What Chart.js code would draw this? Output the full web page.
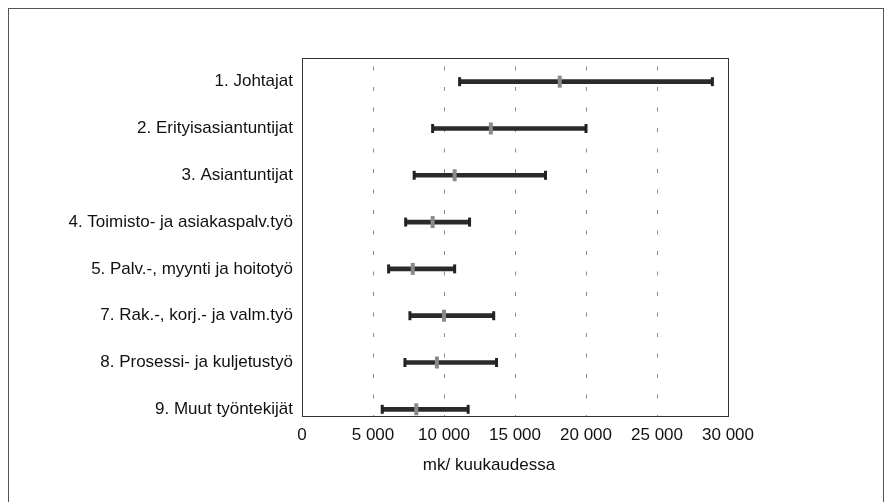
<!DOCTYPE html>
<html>
<head>
<meta charset="utf-8">
<script src="https://cdn.jsdelivr.net/npm/chart.js@4/dist/chart.umd.min.js"></script>
<style>
html,body{margin:0;padding:0;background:#fff;}
#wrap{width:887px;height:502px;position:relative;}
</style>
</head>
<body>
<div id="wrap"><canvas id="c" width="887" height="502"></canvas></div>
<script>
const categories = [
  "1. Johtajat",
  "2. Erityisasiantuntijat",
  "3. Asiantuntijat",
  "4. Toimisto- ja asiakaspalv.työ",
  "5. Palv.-, myynti ja hoitotyö",
  "7. Rak.-, korj.- ja valm.työ",
  "8. Prosessi- ja kuljetustyö",
  "9. Muut työntekijät"
];
const lowValues    = [11100, 9200, 7900, 7300, 6100, 7600, 7250, 5650];
const medianValues = [18150, 13300, 10750, 9200, 7800, 10000, 9500, 8050];
const highValues   = [28900, 20000, 17150, 11800, 10750, 13500, 13700, 11700];
const xTicks = [0, 5000, 10000, 15000, 20000, 25000, 30000];
const xTickLabels = ["0", "5 000", "10 000", "15 000", "20 000", "25 000", "30 000"];
const axisTitle = "mk/ kuukaudessa";

const FONT = "'Liberation Sans',Arial,Helvetica,sans-serif";

const framePlugin = {
  id: 'frame',
  afterDraw(chart) {
    const ctx = chart.ctx;
    const a = chart.chartArea;
    ctx.save();
    ctx.strokeStyle = '#555';
    ctx.lineWidth = 1;
    ctx.strokeRect(8.5, 8.5, 875, 520);
    ctx.strokeStyle = '#333';
    ctx.strokeRect(Math.round(a.left) + 0.5, Math.round(a.top) + 0.5,
                   Math.round(a.right - a.left), Math.round(a.bottom - a.top));
    ctx.fillStyle = '#111';
    ctx.font = "17px " + FONT;
    ctx.textAlign = 'center';
    ctx.textBaseline = 'middle';
    ctx.fillText(axisTitle, a.left + (a.right - a.left) * 0.439, 465);
    ctx.restore();
  }
};

new Chart(document.getElementById('c'), {
  type: 'bar',
  data: {
    datasets: [
      {
        type: 'bar',
        data: categories.map((c, i) => ({ x: [lowValues[i], highValues[i]], y: i })),
        backgroundColor: '#2a2a2a',
        borderWidth: 0,
        barThickness: 4,
        order: 3
      },
      {
        type: 'scatter',
        data: categories.map((c, i) => ({ x: medianValues[i], y: i })),
        pointStyle: 'line',
        rotation: 90,
        radius: 6,
        borderWidth: 4,
        borderColor: '#8a8a8a',
        backgroundColor: '#8a8a8a',
        order: 1
      },
      {
        type: 'scatter',
        data: categories.flatMap((c, i) => [{ x: lowValues[i], y: i }, { x: highValues[i], y: i }]),
        pointStyle: 'line',
        rotation: 90,
        radius: 4.5,
        borderWidth: 3,
        borderColor: '#222',
        backgroundColor: '#222',
        order: 2
      }
    ]
  },
  options: {
    indexAxis: 'y',
    responsive: false,
    animation: false,
    events: [],
    layout: { padding: { left: 0, right: 159, top: 58, bottom: 0 } },
    plugins: { legend: { display: false }, tooltip: { enabled: false } },
    scales: {
      x: {
        type: 'linear',
        min: 0,
        max: 30000,
        offset: false,
        afterBuildTicks: s => { s.ticks = xTicks.map(v => ({ value: v })); },
        afterFit: s => { s.height = 86; },
        ticks: {
          font: { family: FONT, size: 17 },
          color: '#111',
          padding: 9,
          maxRotation: 0,
          autoSkip: false,
          callback: (v) => xTickLabels[xTicks.indexOf(v)]
        },
        grid: {
          offset: false,
          drawTicks: false,
          color: ctx => (ctx.tick && (ctx.tick.value === 0 || ctx.tick.value === 30000)) ? 'rgba(0,0,0,0)' : '#8a8a8a',
          lineWidth: 1
        },
        border: { display: false, dash: [4, 16.5], dashOffset: 12 }
      },
      y: {
        type: 'linear',
        reverse: true,
        offset: false,
        min: -0.506,
        max: 7.143,
        afterBuildTicks: s => { s.ticks = categories.map((c, i) => ({ value: i })); },
        afterFit: s => { s.width = 302; },
        ticks: {
          font: { family: FONT, size: 17 },
          color: '#111',
          padding: 9,
          autoSkip: false,
          callback: (v) => categories[v]
        },
        grid: { display: false, drawTicks: false, offset: false },
        border: { display: false }
      }
    }
  },
  plugins: [framePlugin]
});
</script>
</body>
</html>
